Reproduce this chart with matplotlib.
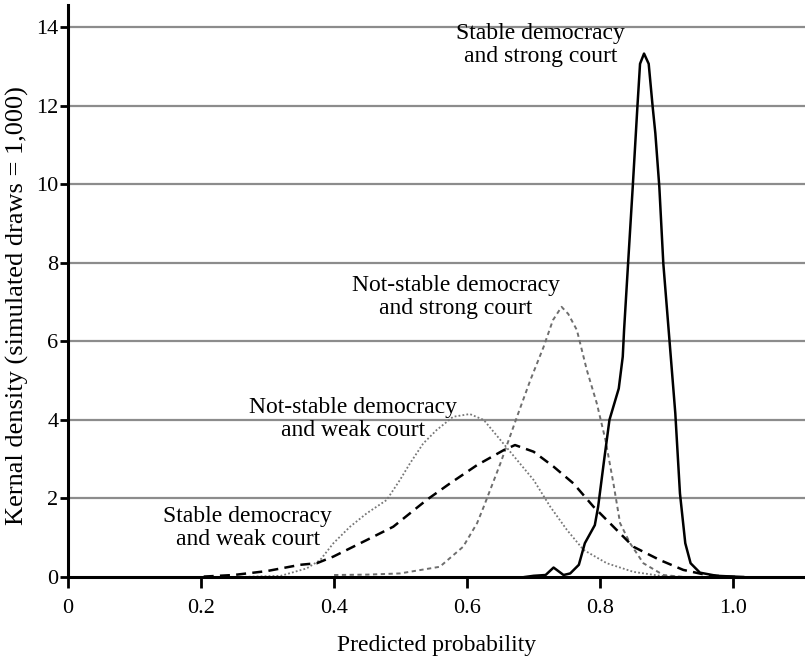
import matplotlib
matplotlib.use("Agg")
import matplotlib.pyplot as plt

plt.rcParams['font.family'] = ['Liberation Serif', 'DejaVu Serif']

# stable democracy, strong court (solid black)
sd_sc_x = [0.687, 0.70, 0.718, 0.730, 0.745, 0.755, 0.768, 0.777, 0.792, 0.797, 0.806,
           0.814, 0.828, 0.834, 0.836, 0.842, 0.849, 0.856, 0.860, 0.866, 0.873, 0.879,
           0.883, 0.889, 0.895, 0.903, 0.913, 0.920, 0.928, 0.936, 0.950, 0.975, 1.0, 1.015]
sd_sc_y = [0.0, 0.03, 0.05, 0.24, 0.05, 0.09, 0.31, 0.86, 1.32, 1.79, 2.98,
           4.0, 4.80, 5.61, 6.29, 7.98, 9.93, 11.97, 13.07, 13.33, 13.07, 11.97,
           11.3, 9.93, 7.98, 6.29, 4.17, 2.13, 0.86, 0.35, 0.11, 0.03, 0.01, 0.0]

# stable democracy, weak court (dashed black)
sd_wc_x = [0.204, 0.249, 0.299, 0.349, 0.374, 0.399, 0.449, 0.489, 0.514, 0.539, 0.574,
           0.615, 0.655, 0.672, 0.70, 0.730, 0.760, 0.790, 0.820, 0.850, 0.890, 0.925,
           0.960, 0.99, 1.01]
sd_wc_y = [0.01, 0.05, 0.15, 0.31, 0.35, 0.52, 0.94, 1.28, 1.62, 1.96, 2.38,
           2.85, 3.23, 3.36, 3.19, 2.81, 2.38, 1.79, 1.28, 0.77, 0.43, 0.18,
           0.05, 0.01, 0.0]

# not-stable democracy, weak court (dotted grey)
ns_wc_x = [0.20, 0.26, 0.32, 0.359, 0.379, 0.399, 0.424, 0.449, 0.479, 0.499, 0.514,
           0.534, 0.554, 0.579, 0.604, 0.625, 0.65, 0.675, 0.70, 0.725, 0.75, 0.775,
           0.81, 0.85, 0.89, 0.925]
ns_wc_y = [0.0, 0.0, 0.03, 0.22, 0.43, 0.86, 1.28, 1.62, 1.96, 2.47, 2.89,
           3.40, 3.74, 4.08, 4.15, 4.0, 3.49, 2.98, 2.47, 1.79, 1.2, 0.69,
           0.35, 0.13, 0.03, 0.0]

# not-stable democracy, strong court (dashed grey)
ns_sc_x = [0.40, 0.45, 0.499, 0.559, 0.594, 0.615, 0.625, 0.65, 0.675, 0.695, 0.715,
           0.729, 0.742, 0.752, 0.765, 0.78, 0.795, 0.808, 0.82, 0.83, 0.845, 0.865,
           0.895, 0.925]
ns_sc_y = [0.05, 0.06, 0.09, 0.26, 0.77, 1.37, 1.79, 2.89, 4.08, 5.01, 5.86,
           6.54, 6.88, 6.7, 6.29, 5.27, 4.42, 3.49, 2.38, 1.37, 0.86, 0.35,
           0.05, 0.0]

labels = ["Stable democracy\nand strong court",
          "Not-stable democracy\nand strong court",
          "Not-stable democracy\nand weak court",
          "Stable democracy\nand weak court"]
label_pos = [(0.71, 13.54), (0.583, 7.13), (0.428, 4.02), (0.27, 1.25)]

x_ticks = [0, 0.2, 0.4, 0.6, 0.8, 1.0]
x_tick_labels = ["0", "0.2", "0.4", "0.6", "0.8", "1.0"]
y_ticks = [0, 2, 4, 6, 8, 10, 12, 14]

fig = plt.figure(figsize=(8.05, 6.6), dpi=100)
ax = fig.add_axes([0.0845, 0.1258, 0.9155, 0.8662])

for yt in y_ticks[1:]:
    ax.axhline(yt, color='#8c8c8c', lw=1.6, zorder=1)

ax.plot(ns_wc_x, ns_wc_y, color='#777777', lw=1.3, linestyle=(0, (1, 1.2)), zorder=2)
ax.plot(ns_sc_x, ns_sc_y, color='#6e6e6e', lw=1.4, linestyle=(0, (2.2, 1.8)), zorder=2)
ax.plot(sd_wc_x, sd_wc_y, color='black', lw=1.8, linestyle=(0, (4, 2.5)), zorder=3)
ax.plot(sd_sc_x, sd_sc_y, color='black', lw=1.8, zorder=4)

for txt, (tx, ty) in zip(labels, label_pos):
    ax.text(tx, ty, txt, ha='center', va='center', fontsize=17, linespacing=1.12)

ax.set_xlim(0, 1.108)
ax.set_ylim(0, 14.56)
ax.set_xticks(x_ticks)
ax.set_xticklabels(x_tick_labels)
ax.set_yticks(y_ticks)
ax.tick_params(axis='both', labelsize=16, width=2, direction='out')
ax.tick_params(axis='x', length=8, pad=8)
ax.tick_params(axis='y', length=6, pad=1)

for s in ['top', 'right']:
    ax.spines[s].set_visible(False)
for s in ['left', 'bottom']:
    ax.spines[s].set_linewidth(2.2)

ax.set_xlabel("Predicted probability", fontsize=17, labelpad=12)
ax.set_ylabel("Kernal density (simulated draws = 1,000)", fontsize=19)
ax.yaxis.set_label_coords(-0.053, 0.4755)

fig.savefig("out.png", dpi=100)
